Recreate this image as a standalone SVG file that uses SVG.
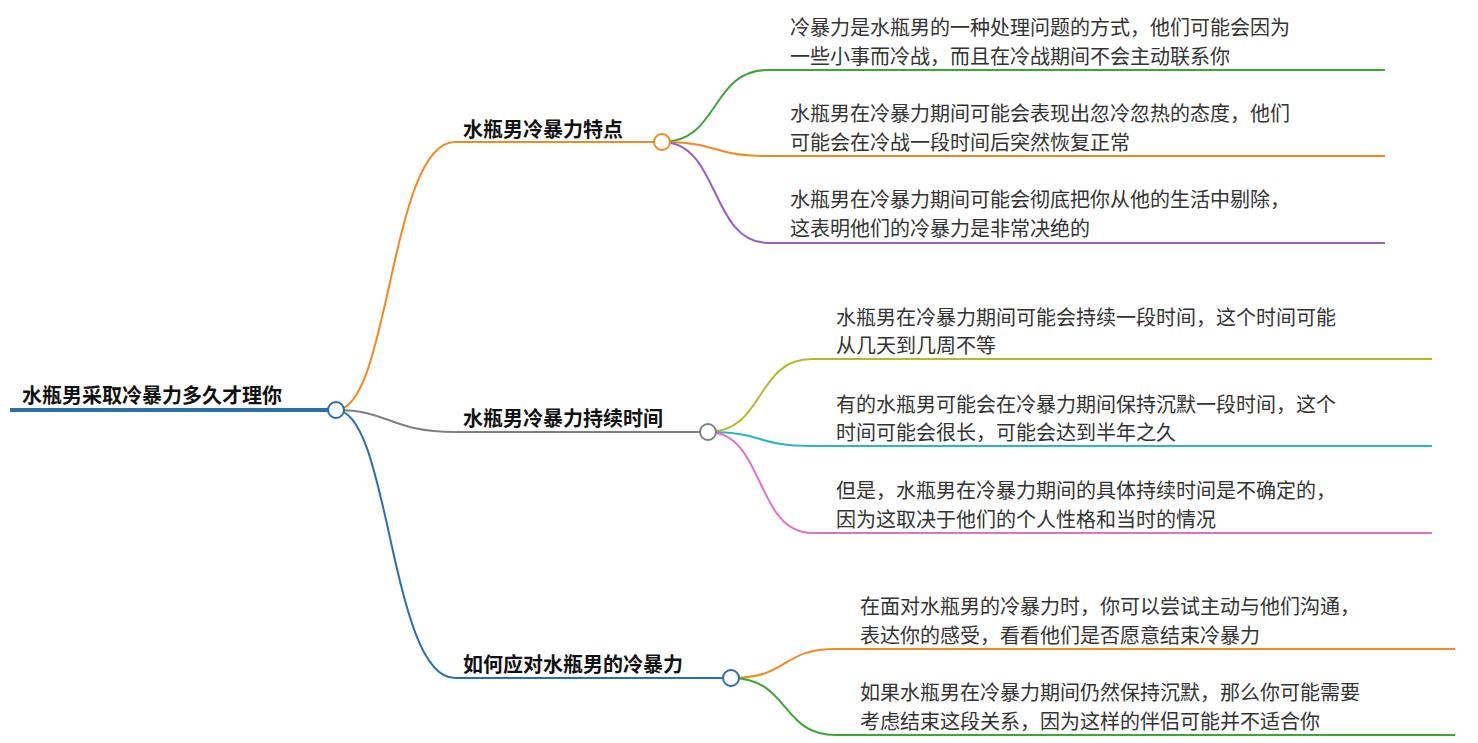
<svg xmlns="http://www.w3.org/2000/svg" width="1478" height="743" viewBox="0 0 1478 743">
<style>
.t{font-family:"Noto Sans CJK SC","Liberation Sans",sans-serif;font-size:20px;fill:#333}
.b{font-family:"Noto Sans CJK SC","Liberation Sans",sans-serif;font-size:20px;font-weight:bold;fill:#111}
.l{fill:none;stroke-width:2}
.c{fill:#fff;stroke-width:2}
</style>
<rect width="1478" height="743" fill="#fff"/>
<g id="connectors">
<path class="l" stroke="#f28a1e" d="M336,410 C390,410 390,142 455,142 H662"/>
<path class="l" stroke="#808080" d="M336,410 C390,410 390,432 455,432 H708"/>
<path class="l" stroke="#2a6fa8" d="M336,410 C390,410 390,678 455,678 H731"/>
<path class="l" stroke="#3aa832" d="M662,142 C720,142 710,70 768,70 H1385"/>
<path class="l" stroke="#f28a1e" d="M662,142 C720,142 710,156 768,156 H1385"/>
<path class="l" stroke="#9a5cc6" d="M662,142 C720,142 710,243 768,243 H1385"/>
<path class="l" stroke="#b5b82a" d="M708,432 C765,432 755,359 812,359 H1432"/>
<path class="l" stroke="#2bb5c8" d="M708,432 C765,432 755,446 812,446 H1432"/>
<path class="l" stroke="#e070c8" d="M708,432 C765,432 755,533 812,533 H1432"/>
<path class="l" stroke="#f28a1e" d="M731,678 C790,678 780,649 836,649 H1455"/>
<path class="l" stroke="#3aa832" d="M731,678 C790,678 780,735 836,735 H1455"/>
</g>
<g id="root">
<line x1="10" y1="410" x2="336" y2="410" stroke="#2a6fa8" stroke-width="4"/>
<text class="b" x="22" y="403">水瓶男采取冷暴力多久才理你</text>
<circle class="c" cx="336" cy="410" r="8" stroke="#2a6fa8"/>
</g>
<g id="n1"><text class="b" x="463" y="137">水瓶男冷暴力特点</text><circle class="c" cx="662" cy="142" r="8" stroke="#f28a1e"/></g>
<g id="n2"><text class="b" x="463" y="426">水瓶男冷暴力持续时间</text><circle class="c" cx="708" cy="432" r="8" stroke="#808080"/></g>
<g id="n3"><text class="b" x="463" y="672">如何应对水瓶男的冷暴力</text><circle class="c" cx="731" cy="678" r="8" stroke="#2a6fa8"/></g>
<g id="n1a"><text class="t" x="790" y="35">冷暴力是水瓶男的一种处理问题的方式，他们可能会因为</text><text class="t" x="790" y="64">一些小事而冷战，而且在冷战期间不会主动联系你</text></g>
<g id="n1b"><text class="t" x="790" y="121">水瓶男在冷暴力期间可能会表现出忽冷忽热的态度，他们</text><text class="t" x="790" y="150">可能会在冷战一段时间后突然恢复正常</text></g>
<g id="n1c"><text class="t" x="790" y="207">水瓶男在冷暴力期间可能会彻底把你从他的生活中剔除，</text><text class="t" x="790" y="236">这表明他们的冷暴力是非常决绝的</text></g>
<g id="n2a"><text class="t" x="836" y="325">水瓶男在冷暴力期间可能会持续一段时间，这个时间可能</text><text class="t" x="836" y="353">从几天到几周不等</text></g>
<g id="n2b"><text class="t" x="836" y="412">有的水瓶男可能会在冷暴力期间保持沉默一段时间，这个</text><text class="t" x="836" y="440">时间可能会很长，可能会达到半年之久</text></g>
<g id="n2c"><text class="t" x="836" y="498">但是，水瓶男在冷暴力期间的具体持续时间是不确定的，</text><text class="t" x="836" y="527">因为这取决于他们的个人性格和当时的情况</text></g>
<g id="n3a"><text class="t" x="860" y="614">在面对水瓶男的冷暴力时，你可以尝试主动与他们沟通，</text><text class="t" x="860" y="643">表达你的感受，看看他们是否愿意结束冷暴力</text></g>
<g id="n3b"><text class="t" x="860" y="700">如果水瓶男在冷暴力期间仍然保持沉默，那么你可能需要</text><text class="t" x="860" y="729">考虑结束这段关系，因为这样的伴侣可能并不适合你</text></g>
</svg>
